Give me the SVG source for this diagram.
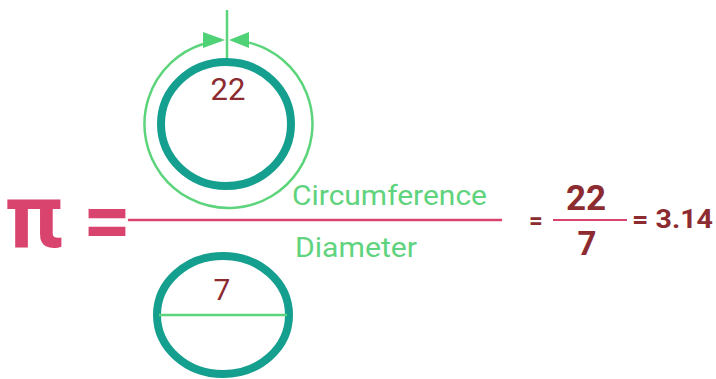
<svg xmlns="http://www.w3.org/2000/svg" width="716" height="379" viewBox="0 0 716 379">
<style>
.ring{fill:none;stroke:#159f8f;stroke-width:8}
.guide{fill:none;stroke:#5cd47c;stroke-width:2.5}
.arrow{fill:#4fd176}
.num{font-family:Roboto,"Liberation Sans",sans-serif;fill:#8c2b30}
.word{font-family:Roboto,"Liberation Sans",sans-serif;fill:#5fd37d;font-size:28px}
.pink{fill:#d9446f;font-family:Roboto,"Liberation Sans",sans-serif;font-weight:bold}
.bar{stroke:#d9446f;stroke-width:2.5}
.bar2{stroke:#d9446f;stroke-width:2}
</style>
<rect width="716" height="379" fill="#ffffff"/>
<g id="circumference-circle">
<path class="guide" d="M 203 44 A 84 84 0 1 0 249 42.6"/>
<line class="guide" x1="227" y1="10" x2="227" y2="64"/>
<polygon class="arrow" points="203,32 203,48 225,40"/>
<polygon class="arrow" points="249,32 249,48 229,40"/>
<ellipse class="ring" cx="226" cy="124" rx="65" ry="62"/>
<text class="num" x="228" y="100" font-size="31" text-anchor="middle">22</text>
</g>
<g id="diameter-circle">
<ellipse class="ring" cx="223" cy="315" rx="66" ry="59"/>
<line class="guide" x1="159" y1="315" x2="287" y2="315"/>
<text class="num" x="222" y="300" font-size="30" text-anchor="middle">7</text>
</g>
<g id="pi-formula">
<text class="pink" x="34" y="247" font-size="90" text-anchor="middle">π</text>
<text class="pink" x="107" y="249" font-size="84" text-anchor="middle">=</text>
<line class="bar" x1="128" y1="220" x2="502" y2="220"/>
<text class="word" x="292" y="205" textLength="195" lengthAdjust="spacingAndGlyphs">Circumference</text>
<text class="word" x="295" y="257" textLength="122" lengthAdjust="spacingAndGlyphs">Diameter</text>
</g>
<g id="result">
<text class="num" x="536" y="229" font-size="24" font-weight="bold" text-anchor="middle">=</text>
<text class="num" x="586" y="210" font-size="35" font-weight="bold" text-anchor="middle">22</text>
<line class="bar2" x1="553" y1="220" x2="627" y2="220"/>
<text class="num" x="587" y="255" font-size="33" font-weight="bold" text-anchor="middle">7</text>
<text class="num" x="632" y="228" font-size="26" font-weight="bold" textLength="81" lengthAdjust="spacingAndGlyphs">= 3.14</text>
</g>
</svg>
